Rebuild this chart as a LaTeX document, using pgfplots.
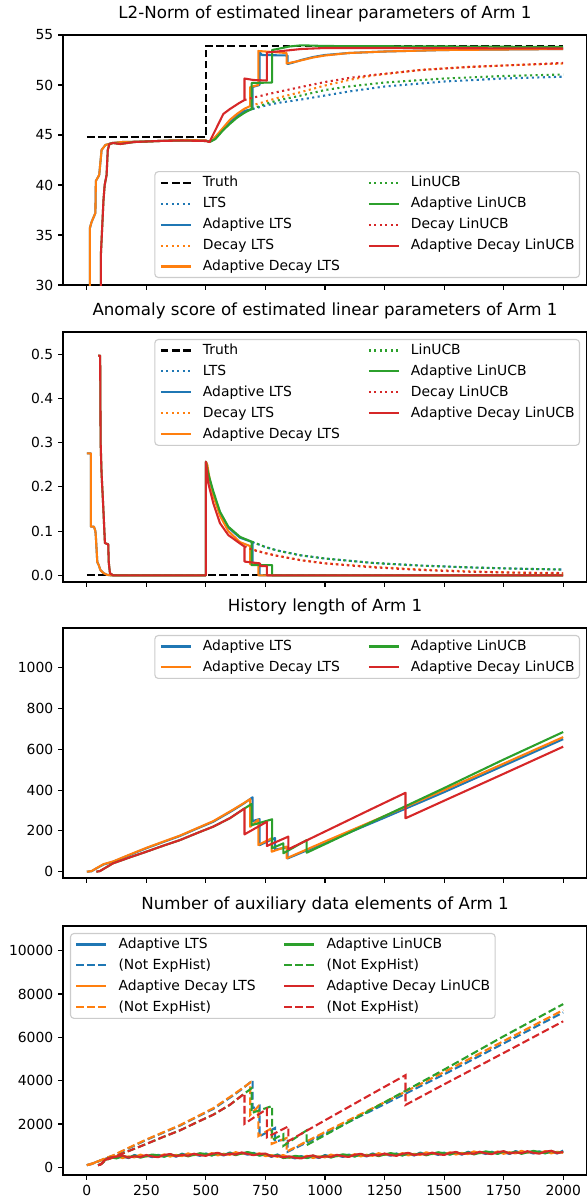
\documentclass[border=0pt]{standalone}
\usepackage{fontspec}
\setmainfont{DejaVu Sans}
\usepackage{pgfplots}
\pgfplotsset{compat=1.18}

\definecolor{c0}{HTML}{1F77B4}
\definecolor{c1}{HTML}{FF7F0E}
\definecolor{c2}{HTML}{2CA02C}
\definecolor{c3}{HTML}{D62728}
\definecolor{legframe}{HTML}{CCCCCC}

\pgfplotsset{
  mplsolid/.style={line width=1.5pt, line join=round},
  mpldashed/.style={line width=1.5pt, dash pattern=on 5.55pt off 2.4pt},
  mpldotted/.style={line width=1.5pt, dash pattern=on 1.5pt off 2.475pt},
  panel/.style={
    scale only axis, width=377.28pt, height=180pt,
    xmin=-100, xmax=2100, xtick={0,250,...,2000},
    scaled ticks=false,
    axis line style={line width=0.8pt, black},
    tick align=outside, tick pos=left,
    major tick length=3.5pt,
    every tick/.style={line width=0.8pt, black},
    tick label style={font=\fontsize{10}{12}\selectfont},
    /pgf/number format/assume math mode=true,
    /pgf/number format/1000 sep={},
    title style={font=\fontsize{12}{14}\selectfont, anchor=base, at={(0.5,1)}, yshift=6pt, inner sep=0pt},
    legend cell align=left,
    legend style={font=\fontsize{10}{12}\selectfont, draw=legframe, line width=0.8pt,
      rounded corners=2.5pt, fill=white, fill opacity=0.8, text opacity=1, draw opacity=1,
      inner xsep=3.5pt, inner ysep=3pt, row sep=5.3pt,
      nodes={inner sep=0pt, text height=7.6pt, text depth=2.2pt},
      /tikz/every odd column/.append style={column sep=8pt},
      /tikz/every even column/.append style={column sep=20pt}},
    legend image code/.code={\draw[#1] (0pt,0pt) -- (21.6pt,0pt);},
  },
}

\begin{document}
\begin{tikzpicture}

% ---------- panel 1: L2 norm
\begin{axis}[panel, at={(0pt,0pt)}, anchor=north west,
  title={L2-Norm of estimated linear parameters of Arm 1},
  ymin=30, ymax=55, ytick={30,35,...,55}, xticklabels={},
  legend columns=2,
  legend style={at={(1,0)}, anchor=south east, xshift=-5pt, yshift=5pt}]
\addplot[forget plot, mpldashed, black] coordinates {(0,44.8) (500,44.8) (500,53.92) (2000,53.92)};
\addplot[forget plot, mpldotted, c0] coordinates {(696,47.6) (750,47.95) (800,48.2) (900,48.55) (1000,48.95) (1100,49.35) (1250,49.85) (1500,50.35) (1750,50.65) (2000,50.83)};
\addplot[forget plot, mplsolid, c0] coordinates {(0,20) (13,20) (13,35.7) (20,36.3) (36,37.2) (38,40.4) (52,41.0) (62,43.5) (78,44.0) (107,44.2) (150,44.3) (250,44.35) (350,44.45) (420,44.5) (500,44.45) (515,44.3) (530,44.5) (550,45.0) (575,45.6) (600,46.3) (630,46.9) (660,47.4) (696,47.6) (696,49.8) (725,50.0) (725,53.3) (735,53.0) (843,52.95) (843,52.1) (860,52.2) (900,52.5) (950,52.8) (1000,53.0) (1100,53.2) (1250,53.35) (1500,53.5) (2000,53.6)};
\addplot[forget plot, mpldotted, c1] coordinates {(686,47.9) (750,48.35) (800,48.7) (900,49.3) (1000,49.95) (1100,50.5) (1200,50.95) (1400,51.5) (1600,51.8) (1800,52.0) (2000,52.15)};
\addplot[forget plot, mplsolid, c1] coordinates {(0,20) (13,20) (13,35.7) (20,36.3) (36,37.2) (38,40.4) (52,41.0) (62,43.5) (78,44.0) (107,44.2) (150,44.3) (250,44.35) (350,44.45) (420,44.5) (500,44.45) (515,44.3) (530,44.55) (550,45.1) (575,45.8) (600,46.5) (630,47.1) (660,47.6) (686,47.9) (686,49.8) (720,50.0) (720,53.4) (780,53.3) (839,53.2) (839,52.15) (880,52.35) (950,52.75) (1000,52.95) (1100,53.2) (1250,53.35) (1500,53.5) (2000,53.6)};
\addplot[forget plot, mpldotted, c2] coordinates {(692,47.6) (750,48.1) (800,48.45) (900,48.95) (1000,49.5) (1100,49.85) (1250,50.25) (1500,50.65) (1750,50.9) (2000,51.05)};
\addplot[forget plot, mplsolid, c2] coordinates {(47,20) (59,20) (59,33) (70,38.5) (75,40) (83,41) (88,43.5) (95,44.1) (110,44.2) (140,44.1) (200,44.3) (300,44.4) (400,44.45) (500,44.4) (520,44.35) (540,44.6) (573,45.5) (600,46.1) (629,46.7) (660,47.2) (692,47.6) (692,50.2) (778,50.25) (778,53.5) (800,53.6) (850,53.85) (900,53.97) (1000,53.9) (2000,53.8)};
\addplot[forget plot, mpldotted, c3] coordinates {(662,48.5) (700,48.75) (800,49.3) (900,49.8) (1000,50.3) (1100,50.7) (1200,51.0) (1400,51.5) (1600,51.8) (1800,52.0) (2000,52.2)};
\addplot[forget plot, mplsolid, c3] coordinates {(47,20) (59,20) (59,33) (70,38.5) (75,40) (83,41) (88,43.5) (95,44.1) (110,44.2) (140,44.1) (200,44.3) (300,44.4) (400,44.45) (500,44.4) (515,44.3) (540,45.5) (573,47.1) (601,47.6) (640,48.2) (662,48.5) (662,50.65) (700,50.5) (756,50.45) (756,53.25) (800,53.35) (900,53.6) (1000,53.7) (1250,53.7) (2000,53.65)};
\addlegendimage{mpldashed, black} \addlegendentry{Truth}
\addlegendimage{mpldotted, c2} \addlegendentry{LinUCB}
\addlegendimage{mpldotted, c0} \addlegendentry{LTS}
\addlegendimage{mplsolid, c2} \addlegendentry{Adaptive LinUCB}
\addlegendimage{mplsolid, c0} \addlegendentry{Adaptive LTS}
\addlegendimage{mpldotted, c3} \addlegendentry{Decay LinUCB}
\addlegendimage{mpldotted, c1} \addlegendentry{Decay LTS}
\addlegendimage{mplsolid, c3} \addlegendentry{Adaptive Decay LinUCB}
\addlegendimage{mplsolid, c1} \addlegendentry{Adaptive Decay LTS}
\end{axis}

% ---------- panel 2: anomaly score
\begin{axis}[panel, at={(0pt,-213.84pt)}, anchor=north west,
  title={Anomaly score of estimated linear parameters of Arm 1},
  ymin=-0.0152, ymax=0.5505, ytick={0,0.1,0.2,0.3,0.4,0.5}, xticklabels={},
  yticklabel style={/pgf/number format/fixed, /pgf/number format/fixed zerofill, /pgf/number format/precision=1},
  legend columns=2,
  legend style={at={(1,1)}, anchor=north east, xshift=-5pt, yshift=-5pt}]
\addplot[forget plot, mpldashed, black] coordinates {(0,0) (2000,0)};
\addplot[forget plot, mpldotted, c0] coordinates {(696,0.075) (750,0.064) (800,0.056) (900,0.045) (1000,0.038) (1200,0.028) (1400,0.022) (1600,0.018) (1800,0.015) (2000,0.013)};
\addplot[forget plot, mplsolid, c0] coordinates {(0,0.276) (17,0.276) (17,0.11) (30,0.11) (36,0.1) (38,0.087) (44,0.03) (50,0.023) (57,0.012) (70,0.005) (85,0.001) (100,0) (500,0) (500,0.257) (510,0.225) (531,0.185) (559,0.14) (594,0.108) (643,0.085) (696,0.075) (696,0.025) (725,0.025) (725,0) (2000,0)};
\addplot[forget plot, mpldotted, c1] coordinates {(686,0.066) (700,0.058) (750,0.050) (800,0.044) (900,0.034) (1000,0.027) (1200,0.019) (1400,0.013) (1600,0.009) (1800,0.006) (2000,0.004)};
\addplot[forget plot, mplsolid, c1] coordinates {(0,0.276) (17,0.276) (17,0.11) (30,0.11) (36,0.1) (38,0.087) (44,0.03) (50,0.023) (57,0.012) (70,0.005) (85,0.001) (100,0) (500,0) (500,0.257) (506,0.25) (515,0.22) (531,0.18) (559,0.135) (594,0.10) (643,0.075) (686,0.066) (686,0.025) (720,0.025) (720,0) (2000,0)};
\addplot[forget plot, mpldotted, c2] coordinates {(692,0.076) (750,0.064) (800,0.056) (900,0.045) (1000,0.038) (1200,0.028) (1400,0.022) (1600,0.018) (1800,0.015) (2000,0.013)};
\addplot[forget plot, mplsolid, c2] coordinates {(47,0.497) (56,0.497) (58,0.3) (62,0.23) (69,0.155) (76,0.073) (90,0.07) (92,0.03) (97,0.005) (110,0) (500,0) (500,0.257) (510,0.23) (531,0.19) (559,0.144) (594,0.11) (643,0.087) (692,0.076) (692,0.023) (778,0.023) (778,0) (2000,0)};
\addplot[forget plot, mpldotted, c3] coordinates {(662,0.065) (700,0.057) (750,0.050) (800,0.044) (900,0.034) (1000,0.027) (1200,0.018) (1400,0.012) (1600,0.008) (1800,0.006) (2000,0.005)};
\addplot[forget plot, mplsolid, c3] coordinates {(47,0.497) (56,0.497) (58,0.3) (62,0.23) (69,0.155) (76,0.073) (90,0.07) (92,0.03) (97,0.005) (110,0) (500,0) (500,0.257) (510,0.208) (531,0.163) (559,0.118) (594,0.091) (643,0.072) (662,0.065) (662,0.031) (727,0.027) (727,0.021) (756,0.021) (756,0) (2000,0)};
\addlegendimage{mpldashed, black} \addlegendentry{Truth}
\addlegendimage{mpldotted, c2} \addlegendentry{LinUCB}
\addlegendimage{mpldotted, c0} \addlegendentry{LTS}
\addlegendimage{mplsolid, c2} \addlegendentry{Adaptive LinUCB}
\addlegendimage{mplsolid, c0} \addlegendentry{Adaptive LTS}
\addlegendimage{mpldotted, c3} \addlegendentry{Decay LinUCB}
\addlegendimage{mpldotted, c1} \addlegendentry{Decay LTS}
\addlegendimage{mplsolid, c3} \addlegendentry{Adaptive Decay LinUCB}
\addlegendimage{mplsolid, c1} \addlegendentry{Adaptive Decay LTS}
\end{axis}

% ---------- panel 3: history length
\begin{axis}[panel, at={(0pt,-426.96pt)}, anchor=north west,
  title={History length of Arm 1},
  ymin=-31, ymax=1195, ytick={0,200,...,1000}, xticklabels={},
  legend columns=2,
  legend style={at={(1,1)}, anchor=north east, xshift=-5pt, yshift=-5pt}]
\addplot[forget plot, mplsolid, c0] coordinates {(0,0) (20,2) (40,16) (70,35) (110,49) (180,82) (250,115) (320,145) (391,175) (460,210) (531,245) (615,302) (660,335) (696,365) (696,248) (725,258) (725,130) (790,165) (790,108) (843,120) (843,65) (1000,142) (1250,265) (1500,390) (1750,520) (2000,650)};
\addplot[forget plot, mplsolid, c1] coordinates {(0,0) (20,3) (40,17) (70,37) (110,50) (180,84) (250,117) (320,147) (391,177) (460,212) (531,248) (615,305) (660,337) (686,356) (686,220) (720,256) (720,131) (776,164) (776,98) (839,123) (839,66) (1000,148) (1250,273) (1500,400) (1750,530) (2000,660)};
\addplot[forget plot, mplsolid, c2] coordinates {(40,0) (55,3) (110,41) (180,70) (250,98) (320,127) (391,155) (460,188) (531,221) (600,262) (662,310) (692,332) (692,228) (778,257) (778,115) (825,139) (825,90) (923,155) (923,93) (1000,135) (1250,273) (1500,410) (1750,550) (2000,685)};
\addplot[forget plot, mplsolid, c3] coordinates {(40,0) (55,3) (110,41) (180,70) (250,98) (320,127) (391,155) (460,188) (531,221) (600,262) (662,310) (662,183) (756,245) (756,126) (846,172) (846,110) (1000,197) (1200,310) (1338,387) (1338,262) (1500,348) (1750,480) (2000,613)};
\addlegendimage{mplsolid, c0} \addlegendentry{Adaptive LTS}
\addlegendimage{mplsolid, c2} \addlegendentry{Adaptive LinUCB}
\addlegendimage{mplsolid, c1} \addlegendentry{Adaptive Decay LTS}
\addlegendimage{mplsolid, c3} \addlegendentry{Adaptive Decay LinUCB}
\end{axis}

% ---------- panel 4: auxiliary data elements
\begin{axis}[panel, at={(0pt,-641.52pt)}, anchor=north west, height=179.28pt,
  title={Number of auxiliary data elements of Arm 1},
  ymin=-355, ymax=11140, ytick={0,2000,...,10000},
  legend columns=2,
  legend style={at={(0,1)}, anchor=north west, xshift=5pt, yshift=-5pt}]
\addplot[forget plot, mplsolid, c0] coordinates {(0,100) (20,150) (40,250) (60,330) (80,400) (100,490) (125,425) (150,498) (175,425) (200,570) (225,485) (250,540) (275,470) (300,580) (325,498) (350,565) (375,492) (400,630) (425,545) (450,600) (475,530) (500,640) (525,555) (550,620) (575,548) (600,685) (625,602) (650,660) (675,585) (700,670) (725,550) (750,585) (775,485) (800,595) (825,470) (850,480) (875,410) (900,520) (925,435) (950,500) (975,430) (1000,570) (1025,490) (1050,550) (1075,480) (1100,590) (1125,508) (1150,575) (1175,502) (1200,640) (1225,555) (1250,610) (1275,535) (1300,640) (1325,555) (1350,620) (1375,545) (1400,680) (1425,595) (1450,650) (1475,575) (1500,680) (1525,595) (1550,660) (1575,585) (1600,720) (1625,635) (1650,690) (1675,615) (1700,720) (1725,632) (1750,695) (1775,618) (1800,750) (1825,663) (1850,715) (1875,638) (1900,740) (1925,653) (1950,715) (1975,638) (2000,770)};
\addplot[forget plot, mpldashed, c0] coordinates {(0,100) (40,230) (80,420) (110,540) (180,900) (250,1265) (320,1595) (391,1925) (460,2310) (531,2695) (615,3320) (660,3685) (696,4015) (696,2730) (725,2840) (725,1430) (790,1815) (790,1190) (843,1320) (843,715) (1000,1560) (1250,2915) (1500,4290) (1750,5720) (2000,7150)};
\addplot[forget plot, mplsolid, c1] coordinates {(0,100) (20,150) (40,250) (60,330) (80,400) (100,410) (125,525) (150,428) (175,505) (200,460) (225,585) (250,500) (275,560) (300,500) (325,598) (350,495) (375,572) (400,520) (425,645) (450,560) (475,620) (500,560) (525,655) (550,550) (575,628) (600,575) (625,702) (650,620) (675,675) (700,590) (725,650) (750,515) (775,565) (800,485) (825,570) (850,440) (875,500) (900,440) (925,535) (950,430) (975,510) (1000,460) (1025,590) (1050,510) (1075,570) (1100,510) (1125,608) (1150,505) (1175,582) (1200,530) (1225,655) (1250,570) (1275,625) (1300,560) (1325,655) (1350,550) (1375,625) (1400,570) (1425,695) (1450,610) (1475,665) (1500,600) (1525,695) (1550,590) (1575,665) (1600,610) (1625,735) (1650,650) (1675,705) (1700,640) (1725,732) (1750,625) (1775,698) (1800,640) (1825,763) (1850,675) (1875,728) (1900,660) (1925,753) (1950,645) (1975,718) (2000,670)};
\addplot[forget plot, mpldashed, c1] coordinates {(0,100) (40,240) (80,430) (110,550) (180,925) (250,1285) (320,1615) (391,1945) (460,2330) (531,2730) (615,3355) (660,3705) (686,3915) (686,2420) (720,2815) (720,1440) (776,1805) (776,1080) (839,1355) (839,725) (1000,1630) (1250,3005) (1500,4400) (1750,5830) (2000,7260)};
\addplot[forget plot, mplsolid, c2] coordinates {(47,100) (55,120) (65,200) (76,330) (90,420) (100,460) (125,415) (150,538) (175,455) (200,540) (225,445) (250,520) (275,590) (300,550) (325,488) (350,605) (375,522) (400,600) (425,505) (450,580) (475,650) (500,610) (525,545) (550,660) (575,578) (600,655) (625,562) (650,640) (675,705) (700,640) (725,540) (750,625) (775,515) (800,565) (825,430) (850,460) (875,530) (900,490) (925,425) (950,540) (975,460) (1000,540) (1025,450) (1050,530) (1075,600) (1100,560) (1125,498) (1150,615) (1175,532) (1200,610) (1225,515) (1250,590) (1275,655) (1300,610) (1325,545) (1350,660) (1375,575) (1400,650) (1425,555) (1450,630) (1475,695) (1500,650) (1525,585) (1550,700) (1575,615) (1600,690) (1625,595) (1650,670) (1675,735) (1700,690) (1725,622) (1750,735) (1775,648) (1800,720) (1825,623) (1850,695) (1875,758) (1900,710) (1925,643) (1950,755) (1975,668) (2000,720)};
\addplot[forget plot, mpldashed, c2] coordinates {(47,100) (60,150) (80,330) (110,460) (180,770) (250,1080) (320,1400) (391,1705) (460,2070) (531,2430) (600,2880) (662,3410) (692,3650) (692,2510) (778,2830) (778,1265) (825,1530) (825,990) (923,1705) (923,1025) (1000,1485) (1250,3005) (1500,4510) (1750,6050) (2000,7535)};
\addplot[forget plot, mplsolid, c3] coordinates {(47,100) (55,120) (65,200) (76,330) (90,420) (100,450) (125,495) (150,548) (175,445) (200,510) (225,475) (250,570) (275,500) (300,470) (325,568) (350,615) (375,512) (400,570) (425,535) (450,630) (475,560) (500,530) (525,625) (550,670) (575,568) (600,625) (625,592) (650,690) (675,615) (700,560) (725,620) (750,635) (775,505) (800,535) (825,460) (850,510) (875,440) (900,410) (925,505) (950,550) (975,450) (1000,510) (1025,480) (1050,580) (1075,510) (1100,480) (1125,578) (1150,625) (1175,522) (1200,580) (1225,545) (1250,640) (1275,565) (1300,530) (1325,625) (1350,670) (1375,565) (1400,620) (1425,585) (1450,680) (1475,605) (1500,570) (1525,665) (1550,710) (1575,605) (1600,660) (1625,625) (1650,720) (1675,645) (1700,610) (1725,702) (1750,745) (1775,638) (1800,690) (1825,653) (1850,745) (1875,668) (1900,630) (1925,723) (1950,765) (1975,658) (2000,710)};
\addplot[forget plot, mpldashed, c3] coordinates {(47,100) (60,140) (76,330) (110,460) (180,770) (250,1080) (320,1400) (391,1705) (460,2070) (531,2430) (600,2880) (662,3410) (662,2010) (756,2695) (756,1385) (846,1890) (846,1210) (1000,2170) (1200,3410) (1338,4255) (1338,2880) (1500,3830) (1750,5280) (2000,6740)};
\addlegendimage{mplsolid, c0} \addlegendentry{Adaptive LTS}
\addlegendimage{mplsolid, c2} \addlegendentry{Adaptive LinUCB}
\addlegendimage{mpldashed, c0} \addlegendentry{(Not ExpHist)}
\addlegendimage{mpldashed, c2} \addlegendentry{(Not ExpHist)}
\addlegendimage{mplsolid, c1} \addlegendentry{Adaptive Decay LTS}
\addlegendimage{mplsolid, c3} \addlegendentry{Adaptive Decay LinUCB}
\addlegendimage{mpldashed, c1} \addlegendentry{(Not ExpHist)}
\addlegendimage{mpldashed, c3} \addlegendentry{(Not ExpHist)}
\end{axis}

\pgfresetboundingbox
\useasboundingbox (-45.36pt,-837.36pt) rectangle (377.28pt,25.2pt);
\end{tikzpicture}
\end{document}
